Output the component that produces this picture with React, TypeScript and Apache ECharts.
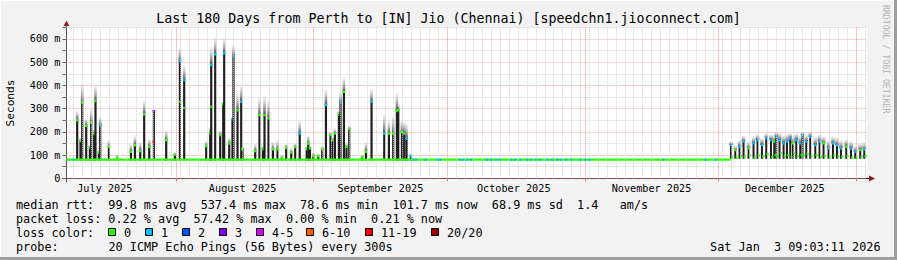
import React, { useEffect, useRef } from 'react';
import * as echarts from 'echarts';

const TITLE = 'Last 180 Days from Perth to [IN] Jio (Chennai) [speedchn1.jioconnect.com]';
const Y_NAME = 'Seconds';
const WATERMARK = 'RRDTOOL / TOBI OETIKER';
const FONT = '"DejaVu Sans Mono", monospace';

// x values: days since 2025-07-07 00:00 (local time)
const RANGE_START = 0.377; // 2025-07-07 09:03:11
const RANGE_END = 180.377; // 2026-01-03 09:03:11
const monthStartDays = [25, 56, 86, 117, 147, 178];
const monthLabelDays = [9, 40, 71, 101, 132, 162];
const monthLabels = ['July 2025', 'August 2025', 'September 2025', 'October 2025', 'November 2025', 'December 2025'];
const minorGridDays: number[] = [];
for (let d = 2; d <= 180; d += 2) minorGridDays.push(d);

// y values in ms
const Y_MAX = 650;

// loss colour legend
const lossLabels = ['0', '1', '2', '3', '4-5', '6-10', '11-19', '20/20'];
const lossColors = ['#26ff00', '#00b8ff', '#0059ff', '#7e00ff', '#dd00ff', '#ff5e00', '#ff0000', '#a10000'];

// baseline median (ms)
const baselineDays = [0.377, 149.85];
const baselineMedian = [80, 80];

// summer spikes: day, top of dense smoke (ms), top of light smoke (ms), loss colour index of median
const SUMMER_BASE = 77;
const spikeDays = [2.78, 3.53, 3.91, 4.81, 5.64, 5.93, 6.61, 6.9, 7.67, 7.96, 9.92, 11.78, 14.87, 15.77, 16.96, 17.86, 18.99, 20.04, 22.81, 24.77, 25.89, 26.86, 31.81, 32.71, 32.94, 33.84, 34.96, 35.64, 35.86, 36.99, 37.73, 37.95, 38.86, 39.69, 39.98, 42.84, 43.8, 44.57, 44.93, 45.83, 46.82, 47.86, 48.85, 49.81, 50.94, 51.84, 52.85, 54.38, 54.77, 55.15, 55.89, 57.01, 57.91, 58.75, 59.78, 60.16, 60.77, 61.67, 62.03, 62.8, 63.38, 63.99, 66.91, 67.75, 69.01, 71.87, 72.92, 73.89, 74.72, 75.02, 75.85, 76.36, 76.88, 77.87];
const spikeTop = [250, 160, 327, 226, 132, 240, 193, 332, 111, 229, 135, 88, 114, 142, 117, 275, 135, 289, 164, 102, 505, 423, 139, 193, 488, 534, 186, 319, 538, 150, 253, 527, 293, 329, 125, 117, 272, 125, 272, 258, 125, 125, 88, 131, 111, 135, 193, 125, 150, 129, 96, 96, 125, 315, 186, 164, 193, 275, 329, 372, 135, 214, 90, 114, 329, 193, 193, 193, 289, 293, 200, 193, 171, 96];
const spikeSmoke = [293, 175, 409, 259, 145, 302, 210, 404, 120, 265, 164, 102, 150, 186, 157, 337, 171, 295, 207, 110, 567, 488, 160, 221, 567, 605, 205, 330, 603, 175, 260, 574, 365, 401, 135, 150, 351, 140, 358, 337, 157, 165, 100, 150, 130, 150, 250, 140, 186, 140, 110, 105, 140, 387, 200, 180, 215, 290, 372, 437, 150, 225, 100, 157, 387, 279, 250, 272, 372, 320, 250, 243, 236, 105];
const spikeLoss = [0, 0, 0, 0, 0, 0, 0, 0, 0, 1, 0, 0, 0, 0, 0, 0, 0, 3, 0, 0, 1, 1, 0, 0, 1, 1, 0, 0, 1, 0, 1, 1, 0, 1, 0, 0, 0, 0, 0, 0, 0, 0, 0, 0, 0, 0, 1, 0, 0, 0, 0, 0, 0, 1, 0, 0, 0, 0, 1, 0, 0, 0, 0, 0, 1, 1, 0, 0, 0, 0, 0, 0, 1, 1];

// extra median dots inside the tall spikes: day, ms, loss index
const innerDays = [25.89, 26.86, 32.94, 20.0];
const innerMedian = [330, 303, 308, 157];
const innerLoss = [0, 0, 0, 6];

// December section
const DEC_BASE = 84;
const decDays = [149.88, 150.85, 151.81, 152.71, 153.84, 154.96, 155.86, 156.85, 157.82, 158.88, 159.62, 160.07, 160.81, 161.72, 162.48, 163.22, 163.83, 164.57, 165.47, 165.99, 166.82, 167.72, 168.85, 169.81, 170.71, 171.84, 172.83, 173.73, 174.63, 175.82, 176.88, 177.85, 178.97, 179.87];
const decTop = [143, 122, 136, 158, 129, 151, 165, 143, 172, 165, 158, 179, 165, 151, 158, 172, 151, 165, 151, 186, 158, 179, 143, 158, 151, 129, 151, 143, 129, 136, 129, 114, 122, 124];
const decSmoke = [160, 140, 165, 185, 160, 180, 190, 175, 195, 190, 185, 200, 195, 185, 190, 195, 180, 195, 185, 200, 190, 200, 180, 190, 180, 165, 180, 175, 165, 170, 160, 140, 150, 155];
const decLoss = [1, 0, 1, 1, 0, 1, 1, 1, 1, 1, 0, 1, 1, 1, 1, 1, 0, 1, 1, 1, 1, 1, 1, 1, 0, 1, 1, 1, 1, 0, 1, 1, 0, 1];
const decMedian = [90, 88, 95, 92, 100, 90, 98, 95, 105, 92, 100, 95, 108, 96, 100, 92, 110, 95, 100, 98, 105, 94, 100, 92, 96, 90, 98, 94, 92, 95, 90, 88, 92, 95];

// baseline intervals with one lost ping (loss colour 1)
const lossOneDays = [1.82, 78.39, 79.07, 81.09, 83.79, 84.47, 88.97, 89.64, 90.54, 91.44, 95.04, 95.94, 97.06, 97.97, 100.44, 101.34, 102.47, 104.04, 104.94, 106.07, 106.97, 108.55, 109.67, 110.79, 111.69, 112.82, 113.94, 115.96, 117.09, 117.99, 134.64, 144.09, 146.34];
const LOSS_ONE_MS = 80;

const statLines = [
  'median rtt:  99.8 ms avg  537.4 ms max  78.6 ms min  101.7 ms now  68.9 ms sd  1.4   am/s',
  'packet loss: 0.22 % avg  57.42 % max  0.00 % min  0.21 % now',
];
const lossColorTitle = 'loss color:';
const probeTitle = 'probe:';
const probeText = '20 ICMP Echo Pings (56 Bytes) every 300s';
const stamp = 'Sat Jan  3 09:03:11 2026';

function makeRender(base: number, darkW: number, smokeW: number) {
  return (_params: any, api: any) => {
    const d = api.value(0);
    const top = api.value(1);
    const smoke = api.value(2);
    const loss = api.value(3);
    const pb = api.coord([d, base]);
    const pt = api.coord([d, top]);
    const ps = api.coord([d, smoke]);
    const cx = pb[0];
    return {
      type: 'group',
      children: [
        {
          type: 'rect',
          shape: { x: cx - smokeW / 2, y: ps[1], width: smokeW, height: Math.max(0, pt[1] - ps[1]) },
          style: {
            fill: new echarts.graphic.LinearGradient(0, 0, 0, 1, [
              { offset: 0, color: 'rgba(160,160,160,0.08)' },
              { offset: 1, color: 'rgba(60,60,60,0.9)' },
            ]),
          },
        },
        {
          type: 'rect',
          shape: { x: cx - darkW / 2, y: pt[1], width: darkW, height: Math.max(0, pb[1] - pt[1]) },
          style: { fill: '#1f1f1f' },
        },
        {
          type: 'rect',
          shape: { x: cx - darkW / 2 - 0.2, y: pt[1] - 1.2, width: darkW + 0.4, height: 2.4 },
          style: { fill: lossColors[loss] },
        },
      ],
    };
  };
}

export default function App() {
  const ref = useRef<HTMLDivElement>(null);
  useEffect(() => {
    if (!ref.current) return;
    const chart = echarts.init(ref.current, undefined, { renderer: 'svg' });

    const GL = 66.5, GT = 27.3, GW = 800, GH = 151;
    const AX_Y = GT + GH; // 178.3

    const text = (x: number, y: number, t: string, size: number, opts: any = {}) => ({
      type: 'text',
      x,
      y,
      rotation: opts.rotation || 0,
      silent: true,
      style: {
        text: t,
        fill: opts.fill || '#000',
        fontSize: size,
        fontFamily: FONT,
        textAlign: opts.align || 'left',
        align: opts.align || 'left',
        textVerticalAlign: 'middle',
        verticalAlign: 'middle',
      },
    });

    const graphics: any[] = [];
    // frame
    graphics.push({ type: 'line', silent: true, shape: { x1: 0, y1: 0.5, x2: 897, y2: 0.5 }, style: { stroke: '#ffffff', lineWidth: 1 } });
    graphics.push({ type: 'line', silent: true, shape: { x1: 0.5, y1: 0, x2: 0.5, y2: 260 }, style: { stroke: '#ffffff', lineWidth: 1 } });
    graphics.push({ type: 'rect', silent: true, shape: { x: 0, y: 257, width: 897, height: 3 }, style: { fill: '#9e9e9e' } });
    graphics.push({ type: 'rect', silent: true, shape: { x: 894, y: 0, width: 3, height: 260 }, style: { fill: '#9e9e9e' } });
    // title & labels
    graphics.push(text(448.5, 18.5, TITLE, 13.3, { align: 'center' }));
    graphics.push(text(10.5, 103, Y_NAME, 11.2, { align: 'center', rotation: Math.PI / 2 }));
    graphics.push(text(885.5, 5, WATERMARK, 8.2, { rotation: -Math.PI / 2, fill: '#b4b4b4' }));
    // axis lines and arrows
    graphics.push({ type: 'line', silent: true, shape: { x1: GL, y1: 24, x2: GL, y2: AX_Y + 4 }, style: { stroke: '#555555', lineWidth: 1 } });
    graphics.push({ type: 'line', silent: true, shape: { x1: GL - 4, y1: AX_Y + 0.2, x2: 870, y2: AX_Y + 0.2 }, style: { stroke: '#000000', lineWidth: 1 } });
    graphics.push({ type: 'polygon', silent: true, shape: { points: [[GL - 2.8, 26], [GL + 2.8, 26], [GL, 20.5]] }, style: { fill: '#8e1b1b' } });
    graphics.push({ type: 'polygon', silent: true, shape: { points: [[869, AX_Y - 2.8], [869, AX_Y + 3.2], [875, AX_Y + 0.2]] }, style: { fill: '#8e1b1b' } });
    // legend
    const LX = 16;
    const rows = [204.5, 218.5, 232.5, 246.5];
    graphics.push(text(LX, rows[0], statLines[0], 11.8));
    graphics.push(text(LX, rows[1], statLines[1], 11.8));
    graphics.push(text(LX, rows[2], lossColorTitle, 11.8));
    const boxX = [108.5, 145.5, 182.5, 219.5, 256.5, 306.5, 365.5, 431.5];
    lossLabels.forEach((lab, i) => {
      graphics.push({ type: 'rect', silent: true, shape: { x: boxX[i], y: 228.5, width: 7, height: 7 }, style: { fill: lossColors[i], stroke: '#000', lineWidth: 1 } });
      graphics.push(text(boxX[i] + 15.5, rows[2], lab, 11.8));
    });
    graphics.push(text(LX, rows[3], probeTitle, 11.8));
    graphics.push(text(108.5, rows[3], probeText, 11.8));
    graphics.push(text(880.5, rows[3], stamp, 11.8, { align: 'right' }));

    const option: any = {
      animation: false,
      backgroundColor: '#f2f2f2',
      grid: {
        left: GL,
        top: GT,
        width: GW,
        height: GH,
        show: true,
        backgroundColor: '#ffffff',
        borderWidth: 0,
        containLabel: false,
        outerBoundsMode: 'none',
      },
      xAxis: {
        type: 'value',
        min: RANGE_START,
        max: RANGE_END,
        axisLine: { show: false },
        splitLine: { show: false },
        axisTick: { show: true, customValues: monthStartDays, length: 3, lineStyle: { color: '#e07070' } },
        axisLabel: {
          customValues: monthLabelDays,
          formatter: (v: number) => {
            const i = monthLabelDays.indexOf(Math.round(v));
            return i >= 0 ? monthLabels[i] : '';
          },
          fontFamily: FONT,
          fontSize: 10.2,
          color: '#000',
          margin: 5,
        },
      },
      yAxis: {
        type: 'value',
        min: 0,
        max: Y_MAX,
        interval: 50,
        axisLine: { show: false },
        axisTick: { show: true, length: 4, lineStyle: { color: '#666' } },
        axisLabel: {
          formatter: (v: number) => (v % 100 !== 0 ? '' : v === 0 ? '0' : `${v} m`),
          fontFamily: FONT,
          fontSize: 10.2,
          color: '#000',
          margin: 6,
        },
        splitLine: { show: true, lineStyle: { type: 'dotted', color: ['#e8a8a8', '#d2d2d2'], width: 1 } },
      },
      graphic: graphics,
      series: [
        {
          type: 'line',
          data: [],
          z: 1,
          silent: true,
          markLine: {
            silent: true,
            symbol: ['none', 'none'],
            label: { show: false },
            animation: false,
            data: [
              ...minorGridDays.filter((d) => monthStartDays.indexOf(d) < 0).map((d) => ({ xAxis: d, lineStyle: { type: 'dotted', color: '#d2d2d2', width: 1 } })),
              ...monthStartDays.map((d) => ({ xAxis: d, lineStyle: { type: 'dotted', color: '#ee8c8c', width: 1 } })),
            ],
          },
        },
        {
          type: 'custom',
          z: 3,
          silent: true,
          clip: true,
          renderItem: makeRender(SUMMER_BASE, 2.2, 2.6),
          encode: { x: 0, y: 1 },
          data: spikeDays.map((d, i) => [d, spikeTop[i], spikeSmoke[i], spikeLoss[i]]),
        },
        {
          type: 'custom',
          z: 3,
          silent: true,
          clip: true,
          renderItem: makeRender(DEC_BASE, 2.0, 3.6),
          encode: { x: 0, y: 1 },
          data: decDays.map((d, i) => [d, decTop[i], decSmoke[i], decLoss[i]]),
        },
        {
          type: 'line',
          z: 4,
          silent: true,
          symbol: 'none',
          lineStyle: { color: lossColors[0], width: 2.2 },
          data: baselineDays.map((d, i) => [d, baselineMedian[i]]),
        },
        {
          type: 'scatter',
          z: 5,
          silent: true,
          symbol: 'rect',
          symbolSize: [2.4, 2.2],
          itemStyle: { color: lossColors[1] },
          data: lossOneDays.map((d) => [d, LOSS_ONE_MS]),
        },
        {
          type: 'scatter',
          z: 5,
          silent: true,
          symbol: 'rect',
          symbolSize: [2.4, 2.4],
          itemStyle: { color: lossColors[0] },
          data: decDays.map((d, i) => [d + 0.3, decMedian[i]]),
        },
        {
          type: 'scatter',
          z: 5,
          silent: true,
          symbol: 'rect',
          symbolSize: [2.4, 2.4],
          data: innerDays.map((d, i) => ({ value: [d, innerMedian[i]], itemStyle: { color: lossColors[innerLoss[i]] } })),
        },
      ],
    };
    chart.setOption(option);
    return () => chart.dispose();
  }, []);
  return <div ref={ref} style={{ position: 'absolute', left: 0, top: 0, width: 897, height: 260 }} />;
}
